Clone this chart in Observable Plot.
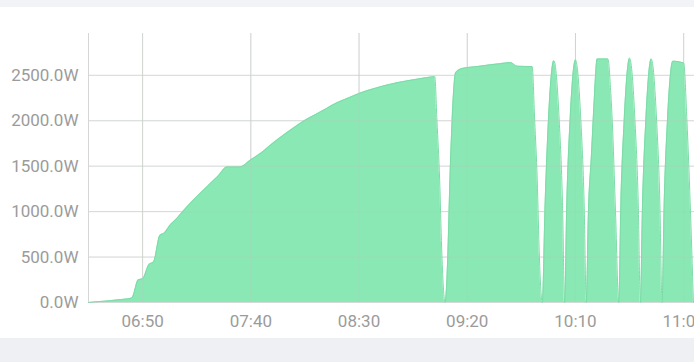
<!DOCTYPE html>
<html>
<head>
<meta charset="utf-8">
<script src="https://cdn.jsdelivr.net/npm/d3@7"></script>
<script src="https://cdn.jsdelivr.net/npm/@observablehq/plot@0.6"></script>
<style>
  html, body { margin: 0; padding: 0; background: #ffffff; overflow: hidden; width: 694px; height: 362px; }
  .band-top { height: 7px; background: #f2f3f6; }
  .band-bottom { height: 24px; background: #eef0f3; }
  #chart svg { display: block; overflow: hidden; }
</style>
</head>
<body>
<div class="band-top"></div>
<div id="chart"></div>
<div class="band-bottom"></div>
<script>
// Data (time of day, power in W)
const times = [
  "06:25","06:30","06:35","06:40","06:45","06:48","06:50","06:53","06:55","06:58",
  "07:00","07:03","07:05","07:10","07:15","07:20","07:25","07:29","07:35","07:40",
  "07:45","07:50","07:55","08:00","08:05","08:10","08:15","08:20","08:25","08:30",
  "08:35","08:40","08:45","08:50","08:55","09:00","09:05","09:06","09:07:15","09:08:10","09:09:45",
  "09:11","09:12","09:13","09:14:40","09:18","09:25","09:30","09:35","09:40","09:43","09:50",
  "09:51:10","09:52:20","09:53:20","09:54:40",
  "09:56","09:57:30","10:00","10:02:30","10:04","10:05",
  "10:06","10:07:30","10:10","10:12:30","10:14","10:15",
  "10:16","10:17:20","10:18:50","10:20","10:25","10:26:20","10:27:00","10:28:30","10:30",
  "10:31","10:32:30","10:35","10:37:30","10:39","10:40",
  "10:41","10:42:30","10:45","10:47:30","10:49","10:50",
  "10:51","10:52:30","10:55","11:00","11:01:30","11:03","11:04:30"
];
const watts = [
  0, 10, 20, 32, 50, 250, 262, 420, 445, 740,
  765, 860, 905, 1040, 1165, 1280, 1395, 1492, 1492, 1570,
  1650, 1750, 1840, 1925, 2005, 2070, 2135, 2200, 2250, 2300,
  2340, 2375, 2405, 2430, 2450, 2470, 2485, 2000, 1350, 600, 0,
  500, 1350, 2000, 2530, 2577, 2598, 2614, 2627, 2640, 2600, 2596,
  2000, 1350, 500, 0,
  1100, 2000, 2661, 2000, 1100, 0,
  1100, 2000, 2669, 2000, 1100, 0,
  1000, 1600, 2300, 2680, 2680, 2300, 2000, 1000, 0,
  1100, 2000, 2688, 2000, 1100, 0,
  1100, 2000, 2680, 2000, 1100, 0,
  1100, 2000, 2655, 2635, 2000, 1100, 0
];
const xTickLabels = ["06:50", "07:40", "08:30", "09:20", "10:10", "11:00"];
const yTicks = [0, 500, 1000, 1500, 2000, 2500];
const xDomainLabels = ["06:25", "11:05"];
const yMax = 2960;

const toDate = s => { const [h, m, sec = 0] = s.split(":").map(Number); return new Date(Date.UTC(2024, 0, 1, h, m, sec)); };
const data = times.map((t, i) => ({ time: toDate(t), w: watts[i] }));
const xTicks = xTickLabels.map(toDate);
const xDomain = xDomainLabels.map(toDate);
const fmt = d3.utcFormat("%H:%M");
const yFmt = d => d.toFixed(1) + "W";

const chart = Plot.plot({
  width: 694,
  height: 331,
  marginLeft: 88,
  marginRight: 0,
  marginTop: 26,
  marginBottom: 36,
  style: { fontFamily: "Roboto, 'Noto Sans', sans-serif", background: "transparent" },
  x: { type: "utc", domain: xDomain, ticks: xTicks, tickFormat: fmt },
  y: { domain: [0, yMax], ticks: yTicks, tickFormat: yFmt },
  marks: [
    Plot.gridX(xTicks, { stroke: "#dcdcdc", strokeOpacity: 1, strokeWidth: 1 }),
    Plot.gridY(yTicks, { stroke: "#e4e4e4", strokeOpacity: 1, strokeWidth: 1 }),
    Plot.areaY(data, { x: "time", y: "w", fill: "#8ae8b4", curve: "monotone-x" }),
    Plot.lineY(data, { x: "time", y: "w", stroke: "#7cdba7", strokeWidth: 1, curve: "monotone-x" }),
    Plot.gridX(xTicks, { stroke: "#b8c8bf", strokeOpacity: 0.35, strokeWidth: 1 }),
    Plot.gridY(yTicks, { stroke: "#b8c8bf", strokeOpacity: 0.35, strokeWidth: 1 }),
    Plot.ruleX([xDomain[0]], { stroke: "#d6d6d6", strokeWidth: 1 }),
    Plot.axisY(yTicks, { tickSize: 0, tickPadding: 10, fontSize: 17, fill: "#9b9b9b", tickFormat: yFmt, label: null }),
    Plot.axisX(xTicks, { tickSize: 0, tickPadding: 12, fontSize: 17, fill: "#9b9b9b", tickFormat: fmt, label: null })
  ]
});
document.getElementById("chart").appendChild(chart);
</script>
</body>
</html>
